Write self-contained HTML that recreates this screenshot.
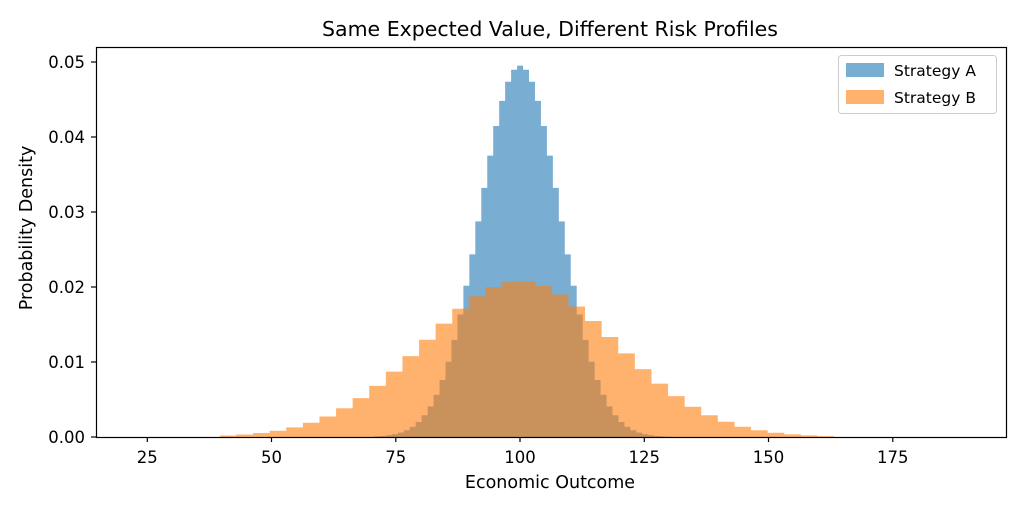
<!DOCTYPE html>
<html><head><meta charset="utf-8"><style>
body{margin:0;background:#fff;}
svg text{font-family:"DejaVu Sans","Liberation Sans",sans-serif;fill:#000;}
</style></head><body>
<svg id="s" width="1024" height="512" xmlns="http://www.w3.org/2000/svg">
<rect width="1024" height="512" fill="#fff"/>
<g id="bars"></g>
<rect x="96.5" y="47.5" width="910" height="390" fill="none" stroke="#000" stroke-width="1.2"/>
<g stroke="#000" stroke-width="1.2">
<line x1="147.3" y1="437" x2="147.3" y2="442"/><line x1="271.5" y1="437" x2="271.5" y2="442"/>
<line x1="395.8" y1="437" x2="395.8" y2="442"/><line x1="520" y1="437" x2="520" y2="442"/>
<line x1="644.3" y1="437" x2="644.3" y2="442"/><line x1="768.5" y1="437" x2="768.5" y2="442"/>
<line x1="892.8" y1="437" x2="892.8" y2="442"/>
<line x1="91" y1="437" x2="96" y2="437"/><line x1="91" y1="362" x2="96" y2="362"/>
<line x1="91" y1="287" x2="96" y2="287"/><line x1="91" y1="212" x2="96" y2="212"/>
<line x1="91" y1="137" x2="96" y2="137"/><line x1="91" y1="62" x2="96" y2="62"/>
</g>
<g font-size="16.5" text-anchor="middle">
<text x="147.3" y="463">25</text><text x="271.5" y="463">50</text><text x="395.8" y="463">75</text>
<text x="520" y="463">100</text><text x="644.3" y="463">125</text><text x="768.5" y="463">150</text>
<text x="892.8" y="463">175</text>
</g>
<g font-size="16.5" text-anchor="end">
<text x="85" y="443">0.00</text><text x="85" y="368">0.01</text><text x="85" y="293">0.02</text>
<text x="85" y="218">0.03</text><text x="85" y="143">0.04</text><text x="85" y="68">0.05</text>
</g>
<text x="550" y="36" font-size="20.5" text-anchor="middle">Same Expected Value, Different Risk Profiles</text>
<text x="550" y="488" font-size="17.5" text-anchor="middle">Economic Outcome</text>
<text transform="translate(32,228) rotate(-90)" font-size="17.5" text-anchor="middle">Probability Density</text>
<rect x="838.5" y="55.5" width="158" height="58" rx="3" fill="#fff" fill-opacity="0.8" stroke="#ccc"/>
<rect x="846" y="63" width="38" height="14" fill="#1f77b4" fill-opacity="0.6"/>
<rect x="846" y="90" width="38" height="14" fill="#ff7f0e" fill-opacity="0.6"/>
<text x="894" y="76" font-size="15.5">Strategy A</text>
<text x="894" y="103" font-size="15.5">Strategy B</text>
</svg>
<script>
(function(){
var g=document.getElementById('bars'),ns='http://www.w3.org/2000/svg';
function X(v){return 147.3+(v-25)*4.97;}
function Y(d){return 437-d*7500;}
function erf(x){var t=1/(1+0.3275911*Math.abs(x));var y=1-(((((1.061405429*t-1.453152027)*t)+1.421413741)*t-0.284496736)*t+0.254829592)*t*Math.exp(-x*x);return x>=0?y:-y;}
function cdf(x,m,s){return 0.5*(1+erf((x-m)/(s*Math.SQRT2)));}
function hist(start,w,n,m,s,col){
 var d='M'+X(start)+' 437';
 for(var i=0;i<n;i++){var a=start+i*w,b=a+w;var h=(cdf(b,m,s)-cdf(a,m,s))/w;
  d+=' L'+X(a)+' '+Y(h)+' L'+X(b)+' '+Y(h);}
 d+=' L'+X(start+n*w)+' 437 Z';
 var p=document.createElementNS(ns,'path');p.setAttribute('d',d);p.setAttribute('fill',col);p.setAttribute('fill-opacity','0.6');g.appendChild(p);
}
hist(70.6,1.2,50,100,8.05,'#1f77b4');
hist(39.6,3.34,37,100,19.2,'#ff7f0e');
})();
</script>
</body></html>
